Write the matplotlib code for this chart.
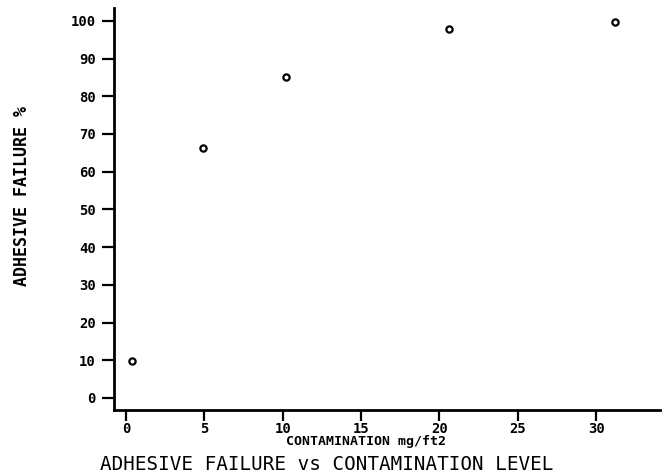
import matplotlib
matplotlib.use("Agg")
import matplotlib.pyplot as plt

contamination = [0.4, 4.9, 10.2, 20.6, 31.2]
failure = [9.8, 66.2, 85.0, 97.9, 99.6]
xticks = [0, 5, 10, 15, 20, 25, 30]
yticks = [0, 10, 20, 30, 40, 50, 60, 70, 80, 90, 100]

fig = plt.figure(figsize=(6.62, 4.76), dpi=100)
W, H = 662, 476
left, right, bottom, top = 114, 662, 410, 8
ax = fig.add_axes([left / W, 1 - bottom / H, (right - left) / W, (bottom - top) / H])

ax.plot(contamination, failure, linestyle="none", marker="o", markersize=4.5,
        markerfacecolor="white", markeredgecolor="black", markeredgewidth=1.6, clip_on=False)

ax.set_xlim(-0.77, 34.2)
ax.set_ylim(-3.2, 103.4)
ax.set_xticks(xticks)
ax.set_yticks(yticks)
ax.set_xticklabels([str(v) for v in xticks])
ax.set_yticklabels([str(v) for v in yticks])

for s in ["top", "right"]:
    ax.spines[s].set_visible(False)
for s in ["left", "bottom"]:
    ax.spines[s].set_linewidth(2)

fp = dict(family="DejaVu Sans Mono", weight="bold")
ax.tick_params(axis="y", direction="out", width=1.6, length=9, labelsize=10, pad=4)
ax.tick_params(axis="x", direction="out", width=1.6, length=8, labelsize=10, pad=0.5)
for lab in ax.get_xticklabels() + ax.get_yticklabels():
    lab.set_fontfamily("DejaVu Sans Mono")
    lab.set_fontweight("bold")

fig.text(366 / W, 1 - 442 / H, "CONTAMINATION mg/ft2", ha="center", va="center",
         fontsize=9.5, **fp)
fig.text(22 / W, 1 - 196 / H, "ADHESIVE FAILURE %", ha="center", va="center",
         rotation=90, fontsize=12, **fp)
fig.text(100 / W, 1 - 464 / H, "ADHESIVE FAILURE vs CONTAMINATION LEVEL", ha="left",
         va="center", fontsize=13.9, family="DejaVu Sans Mono")

fig.savefig("out.png", dpi=100)
